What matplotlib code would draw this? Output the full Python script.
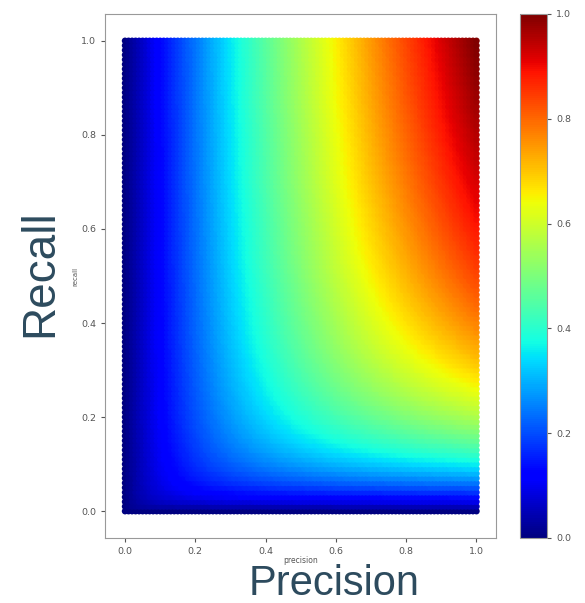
import matplotlib
matplotlib.use("Agg")
import matplotlib.pyplot as plt
import numpy as np

# grid of precision / recall values (step 0.01) and the F-beta weight
precision_values = np.arange(0, 101) / 100
recall_values = np.arange(0, 101) / 100
beta = 0.5
tick_values = [0.0, 0.2, 0.4, 0.6, 0.8, 1.0]

# F-beta score for every (precision, recall) pair
P, R = np.meshgrid(precision_values, recall_values)
denom = beta**2 * P + R
score = np.where(denom > 0, (1 + beta**2) * P * R / np.where(denom > 0, denom, 1), 0.0)

fig = plt.figure(figsize=(5.85, 6.03), dpi=100)
ax = fig.add_axes([0.1795, 0.1078, 0.668, 0.869])
cax = fig.add_axes([0.889, 0.1078, 0.046, 0.869])

sc = ax.scatter(P.ravel(), R.ravel(), c=score.ravel(), cmap="jet", vmin=0, vmax=1,
                s=22, marker="o", linewidths=0)
ax.set_xlim(-0.057, 1.055)
ax.set_ylim(-0.057, 1.057)
ax.set_xticks(tick_values)
ax.set_yticks(tick_values)
ax.tick_params(labelsize=6.8, colors="#555555", length=3, width=0.8)
for sp in ax.spines.values():
    sp.set_color("#999999")
ax.set_xlabel("precision", fontsize=5.5, color="#555555", labelpad=0)
ax.set_ylabel("recall", fontsize=5, color="#555555", labelpad=2)

cb = fig.colorbar(sc, cax=cax, ticks=tick_values)
cb.ax.tick_params(labelsize=6.8, colors="#555555", length=3, width=0.8)
cb.outline.set_edgecolor("#999999")

# large slide labels
fig.text(62 / 585, 1 - 273 / 603, "Recall", rotation=90, ha="right", va="center",
         fontsize=33, color="#2d4b5e", family="Liberation Sans")
fig.text(334 / 585, 1 - 595 / 603, "Precision", ha="center", va="baseline",
         fontsize=30, color="#2d4b5e", family="Liberation Sans")

fig.savefig("out.png", dpi=100)
